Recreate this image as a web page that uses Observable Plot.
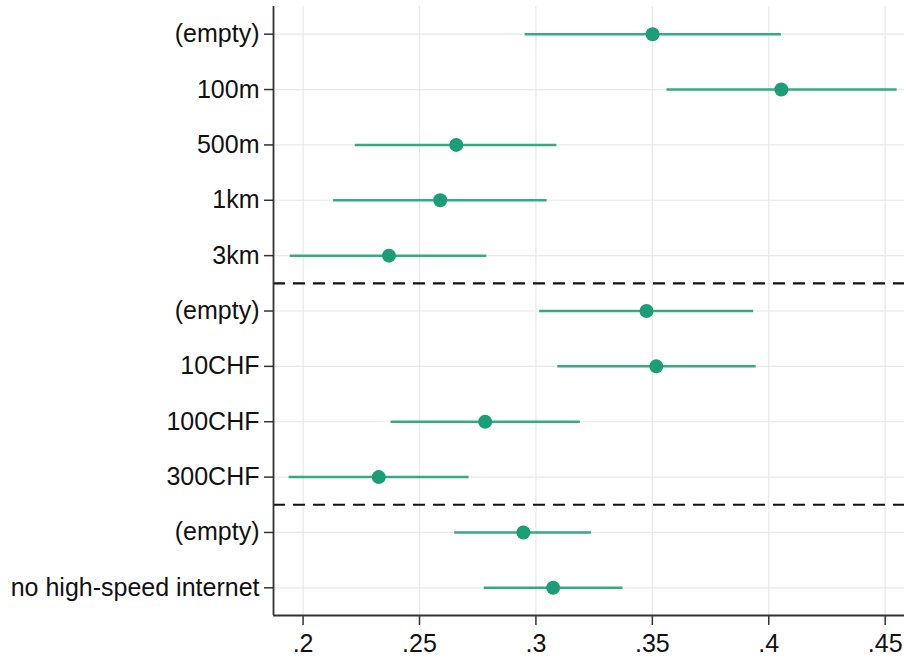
<!DOCTYPE html>
<html>
<head>
<meta charset="utf-8">
<script src="https://cdn.jsdelivr.net/npm/d3@7"></script>
<script src="https://cdn.jsdelivr.net/npm/@observablehq/plot@0.6"></script>
<style>
  html, body { margin: 0; padding: 0; background: #fff; }
</style>
</head>
<body>
<div id="chart"></div>
<script>
const labels = ["(empty)", "100m", "500m", "1km", "3km", "(empty)", "10CHF", "100CHF", "300CHF", "(empty)", "no high-speed internet"];
const estimates = [0.3501, 0.4054, 0.2658, 0.2589, 0.2369, 0.3475, 0.3517, 0.2782, 0.2325, 0.2946, 0.3074];
const lower = [0.2954, 0.3563, 0.2224, 0.2131, 0.1945, 0.3016, 0.3094, 0.2378, 0.1940, 0.2651, 0.2778];
const upper = [0.4054, 0.4551, 0.3090, 0.3048, 0.2789, 0.3935, 0.3946, 0.3191, 0.2713, 0.3239, 0.3374];
const separators = [5.5, 9.5];
const xTicks = [0.2, 0.25, 0.3, 0.35, 0.4, 0.45];
const xTickLabels = [".2", ".25", ".3", ".35", ".4", ".45"];

const rows = labels.map((_, i) => i + 1);
const data = labels.map((label, i) => ({row: i + 1, label, est: estimates[i], lo: lower[i], hi: upper[i]}));
const xDomain = [0.1873, 0.4583];
const yDomain = [0.5, 11.5];
const green = "#1b9e77";

const chart = Plot.plot({
  width: 904,
  height: 658,
  marginLeft: 273,
  marginRight: 0,
  marginTop: 6,
  marginBottom: 43,
  style: {fontFamily: "'Liberation Sans', Arial, sans-serif", fontSize: "25px", color: "#111", background: "#fff"},
  x: {domain: xDomain},
  y: {domain: yDomain, reverse: true},
  marks: [
    Plot.gridX(xTicks, {stroke: "#e8e8e8", strokeOpacity: 1, strokeWidth: 1.2}),
    Plot.gridY(rows, {stroke: "#e8e8e8", strokeOpacity: 1, strokeWidth: 1.2}),
    Plot.ruleY(separators, {stroke: "#111", strokeWidth: 2.2, strokeDasharray: "12,8"}),
    Plot.ruleY(data, {y: "row", x1: "lo", x2: "hi", stroke: green, strokeOpacity: 0.88, strokeWidth: 2.5}),
    Plot.dot(data, {x: "est", y: "row", r: 7, fill: green, stroke: "none"}),
    Plot.axisX({ticks: xTicks, tickFormat: (d) => xTickLabels[xTicks.indexOf(d)], tickSize: 10, tickPadding: 9, stroke: "#333", strokeWidth: 1.5, fill: "#111", label: null}),
    Plot.axisY({ticks: rows, tickFormat: (d) => labels[d - 1], tickSize: 9, tickPadding: 5, stroke: "#333", strokeWidth: 1.5, fill: "#111", label: null}),
    Plot.ruleX([xDomain[0]], {stroke: "#333", strokeWidth: 1.8}),
    Plot.ruleY([yDomain[1]], {stroke: "#333", strokeWidth: 1.8})
  ]
});
document.getElementById("chart").appendChild(chart);
</script>
</body>
</html>
